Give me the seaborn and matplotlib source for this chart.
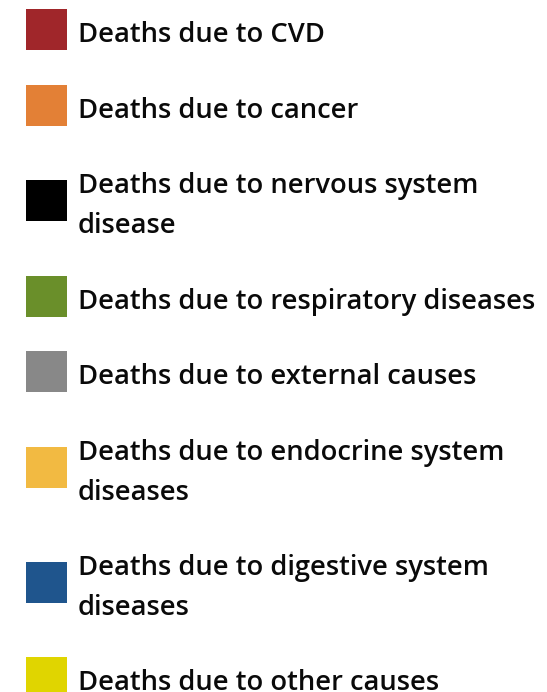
import matplotlib
matplotlib.use("Agg")
import matplotlib.pyplot as plt
import seaborn as sns
import pandas as pd

# legend entries (label lines split by \n) and their swatch colours
labels = [
    "Deaths due to CVD",
    "Deaths due to cancer",
    "Deaths due to nervous system\ndisease",
    "Deaths due to respiratory diseases",
    "Deaths due to external causes",
    "Deaths due to endocrine system\ndiseases",
    "Deaths due to digestive system\ndiseases",
    "Deaths due to other causes",
]
colors = ["#a0262a", "#e38036", "#000000", "#6a8f2a",
          "#888888", "#f2ba42", "#1f558d", "#e0d500"]

sns.set_style("white")
plt.rcParams['font.family'] = ['Open Sans', 'DejaVu Sans']

# layout in pixels (axes spans whole figure, 1 unit = 1 px)
W, H = 547, 692
line_gap = 39.5
item_gap = 75.7

centers = []
y = 29.5
prev_lines = None
for lab in labels:
    n = lab.count("\n") + 1
    if prev_lines is not None:
        y += item_gap + (prev_lines - 1) * line_gap / 2 + (n - 1) * line_gap / 2
    centers.append(y)
    prev_lines = n

df = pd.DataFrame({"label": labels, "x": [46.5] * len(labels), "y": centers})

fig = plt.figure(figsize=(W / 100, H / 100), dpi=100)
ax = fig.add_axes([0, 0, 1, 1])
side_pt = 41 * 72 / 100
sns.scatterplot(data=df, x="x", y="y", hue="label", palette=colors,
                marker="s", s=side_pt ** 2, linewidth=0, legend=False, ax=ax)
ax.set_xlim(0, W)
ax.set_ylim(H, 0)
ax.axis("off")

for lab, cy in zip(labels, centers):
    lines = lab.split("\n")
    n = len(lines)
    for i, ln in enumerate(lines):
        base = cy + 12.5 + (i - (n - 1) / 2) * line_gap
        ax.text(78, base, ln, fontsize=19.7, fontweight="semibold",
                color="#0a0a0a", va="baseline", ha="left")

fig.savefig("out.png", dpi=100)
